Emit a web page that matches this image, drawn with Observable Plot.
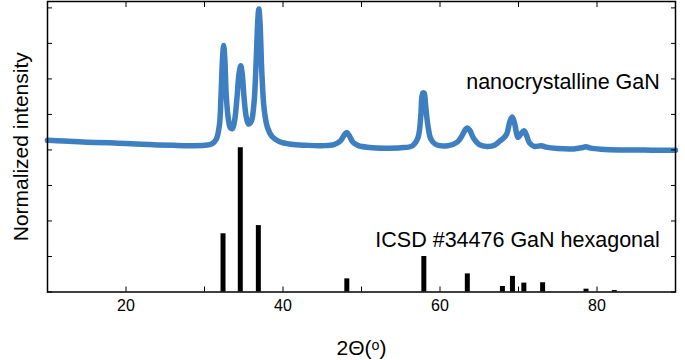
<!DOCTYPE html>
<html><head><meta charset="utf-8">
<script src="https://cdn.jsdelivr.net/npm/d3@7"></script>
<script src="https://cdn.jsdelivr.net/npm/@observablehq/plot@0.6"></script>
<style>html,body{margin:0;padding:0;background:#fff;font-family:"Liberation Sans",Arial,sans-serif}</style>
</head><body><div id="chart"></div>
<script>
const twoTheta = [10,12,15,18,20,23,26,28,30,31,31.5,31.9,32.1,32.3,32.44,32.58,32.78,33.05,33.3,33.55,33.85,34.15,34.4,34.62,34.8,35.05,35.3,35.6,35.95,36.3,36.6,36.8,36.92,37.07,37.3,37.6,38.0,38.6,39.5,41,43,45,46.5,47.3,47.8,48.13,48.45,48.9,49.6,51,53,55,56.5,57.2,57.55,57.8,57.98,58.15,58.45,58.85,59.5,61,62.2,62.8,63.25,63.5,63.8,64.3,65,66,67,67.6,68.04,68.5,68.9,69.2,69.5,69.8,69.96,70.3,70.7,71.0,71.4,72,72.9,73.5,75,77,78.0,78.57,79.2,80.5,83,86,88,90];
const intensity = [4.27,4.25,4.22,4.2,4.18,4.15,4.13,4.12,4.13,4.18,4.3,4.7,5.5,6.6,6.94,6.6,5.5,4.85,4.62,4.6,4.85,5.5,6.15,6.37,6.15,5.45,4.95,4.73,4.8,5.3,6.6,7.7,7.97,7.6,6.2,5.15,4.65,4.38,4.24,4.16,4.13,4.12,4.15,4.25,4.42,4.49,4.4,4.22,4.12,4.07,4.05,4.06,4.12,4.35,4.95,5.6,5.6,5.3,4.7,4.3,4.15,4.12,4.22,4.4,4.58,4.62,4.55,4.32,4.15,4.1,4.14,4.25,4.32,4.45,4.8,4.93,4.75,4.42,4.35,4.45,4.54,4.42,4.2,4.1,4.12,4.08,4.04,4.03,4.06,4.09,4.05,4.02,4.0,4.0,3.99,3.99];

// ICSD #34476 GaN hexagonal reference sticks
const stickPos = [32.36,34.56,36.86,48.13,57.94,63.48,67.95,69.23,70.68,73.07,78.6,82.2];
const stickHeight = [1.64,4.06,1.87,0.37,1.0,0.51,0.155,0.44,0.25,0.26,0.08,0.04];

const xTicks = [10,20,30,40,50,60,70,80,90];
const xTickLabels = [20,40,60,80];
const yTicks = [0,1,2,3,4,5,6,7,8];

const seriesNames = ["nanocrystalline GaN","ICSD #34476 GaN hexagonal"];
const seriesLabelX = [88,88];
const seriesLabelY = [5.9,1.45];

const xTitle = "2Θ(ᵒ)";
const yTitle = "Normalized intensity";

const pattern = twoTheta.map((x,i)=>({x, y: intensity[i]}));
const sticks = stickPos.map((x,i)=>({x, h: stickHeight[i]}));
const notes = seriesNames.map((t,i)=>({t, x: seriesLabelX[i], y: seriesLabelY[i]}));

const chart = Plot.plot({
  width: 685, height: 360,
  marginLeft: 47, marginRight: 10, marginTop: 1, marginBottom: 68.5,
  style: {fontFamily: "'Liberation Sans', Arial, sans-serif", fontSize: "15px", color: "#000", background: "#fff"},
  x: {domain: [10, 90]},
  y: {domain: [0, 8.18]},
  marks: [
    Plot.ruleX(sticks, {x: "x", y1: 0, y2: "h", stroke: "#000", strokeWidth: 5}),
    Plot.line(pattern, {x: "x", y: "y", stroke: "#3d7fc0", strokeWidth: 5.5, curve: "catmull-rom"}),
    Plot.axisX({anchor: "bottom", ticks: xTicks, tickSize: -5, tickPadding: 13, tickFormat: d => xTickLabels.includes(d) ? String(d) : "", label: null, fontSize: 16}),
    Plot.axisX({anchor: "top", ticks: xTicks, tickSize: -5, tickFormat: () => "", label: null}),
    Plot.axisY({anchor: "left", ticks: yTicks, tickSize: -5, tickFormat: () => "", label: null}),
    Plot.axisY({anchor: "right", ticks: yTicks, tickSize: -5, tickFormat: () => "", label: null}),
    Plot.frame({stroke: "#000", strokeWidth: 1.5}),
    Plot.text(notes, {x: "x", y: "y", text: "t", textAnchor: "end", fontSize: 21.5, fill: "#000"}),
    Plot.text([xTitle], {frameAnchor: "bottom", dy: 63, fontSize: 21, fill: "#000"}),
    Plot.text([yTitle], {frameAnchor: "left", dx: -26, rotate: -90, textAnchor: "middle", fontSize: 21, fill: "#000"})
  ]
});
document.getElementById("chart").appendChild(chart);
</script>
</body></html>
